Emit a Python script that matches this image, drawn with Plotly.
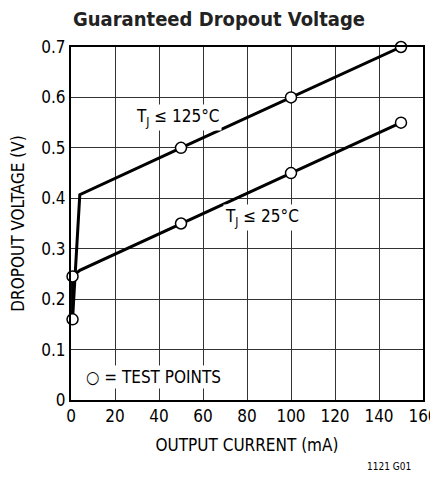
import plotly.graph_objects as go

# Data
hot_x = [0.7, 4, 50, 100, 150]
hot_y = [0.16, 0.407, 0.5, 0.6, 0.7]
cold_x = [0.7, 0.7, 4, 50, 100, 150]
cold_y = [0.16, 0.245, 0.257, 0.35, 0.45, 0.55]
test_x = [0.7, 0.7, 50, 100, 150, 50, 100, 150]
test_y = [0.16, 0.245, 0.5, 0.6, 0.7, 0.35, 0.45, 0.55]
x_ticks = [0, 20, 40, 60, 80, 100, 120, 140, 160]
y_ticks = [0, 0.1, 0.2, 0.3, 0.4, 0.5, 0.6, 0.7]
y_tick_text = ["0", "0.1", "0.2", "0.3", "0.4", "0.5", "0.6", "0.7"]

FONT = "DejaVu Sans Condensed, sans-serif"

def f(size, color="black"):
    return dict(family=FONT, size=size, color=color)

fig = go.Figure()
fig.add_trace(go.Scatter(x=hot_x, y=hot_y, mode="lines",
                         line=dict(color="black", width=3), showlegend=False))
fig.add_trace(go.Scatter(x=cold_x, y=cold_y, mode="lines",
                         line=dict(color="black", width=3), showlegend=False))
fig.add_trace(go.Scatter(x=test_x, y=test_y, mode="markers",
                         marker=dict(symbol="circle", size=11, color="white",
                                     line=dict(color="black", width=1.5)),
                         showlegend=False, cliponaxis=False))

fig.add_annotation(x=48.5, y=0.56, text="T<sub>J</sub> ≤ 125°C", showarrow=False,
                   font=f(17), bgcolor="white")
fig.add_annotation(x=87, y=0.362, text="T<sub>J</sub> ≤ 25°C", showarrow=False,
                   font=f(17), bgcolor="white")
fig.add_annotation(x=6, y=0.046, text="○ = TEST POINTS", showarrow=False, xanchor="left",
                   font=f(17), bgcolor="white")

fig.add_annotation(x=0.5, y=1, xref="paper", yref="paper", xshift=-28, yshift=14,
                   yanchor="bottom", text="<b>Guaranteed Dropout Voltage</b>",
                   showarrow=False, font=f(20, "#222222"))
fig.add_annotation(x=1.0, y=0, xref="paper", yref="paper", xshift=-10, yshift=-66,
                   xanchor="right", yanchor="middle", text="1121 G01", showarrow=False,
                   font=f(10))

fig.update_xaxes(range=[0, 160], tickvals=x_ticks, showgrid=True, gridcolor="#333333",
                 gridwidth=1, showline=True, linecolor="black", linewidth=2, mirror=True,
                 zeroline=False, ticks="", tickfont=f(17), automargin=False,
                 title=dict(text="OUTPUT CURRENT (mA)", font=f(17), standoff=14))
fig.update_yaxes(range=[0, 0.7], tickvals=y_ticks, ticktext=y_tick_text, showgrid=True,
                 gridcolor="#333333", gridwidth=1, showline=True, linecolor="black",
                 linewidth=2, mirror=True, zeroline=False, ticks="", automargin=False,
                 tickfont=f(17),
                 title=dict(text="DROPOUT VOLTAGE (V)", font=f(17), standoff=12))

# page body has an 8px default margin; keep the figure small enough that no scrollbar appears
fig.update_layout(width=430, height=465, margin=dict(l=63, r=15, t=39, b=73),
                  plot_bgcolor="white", paper_bgcolor="white")
fig.write_html("out.html")
